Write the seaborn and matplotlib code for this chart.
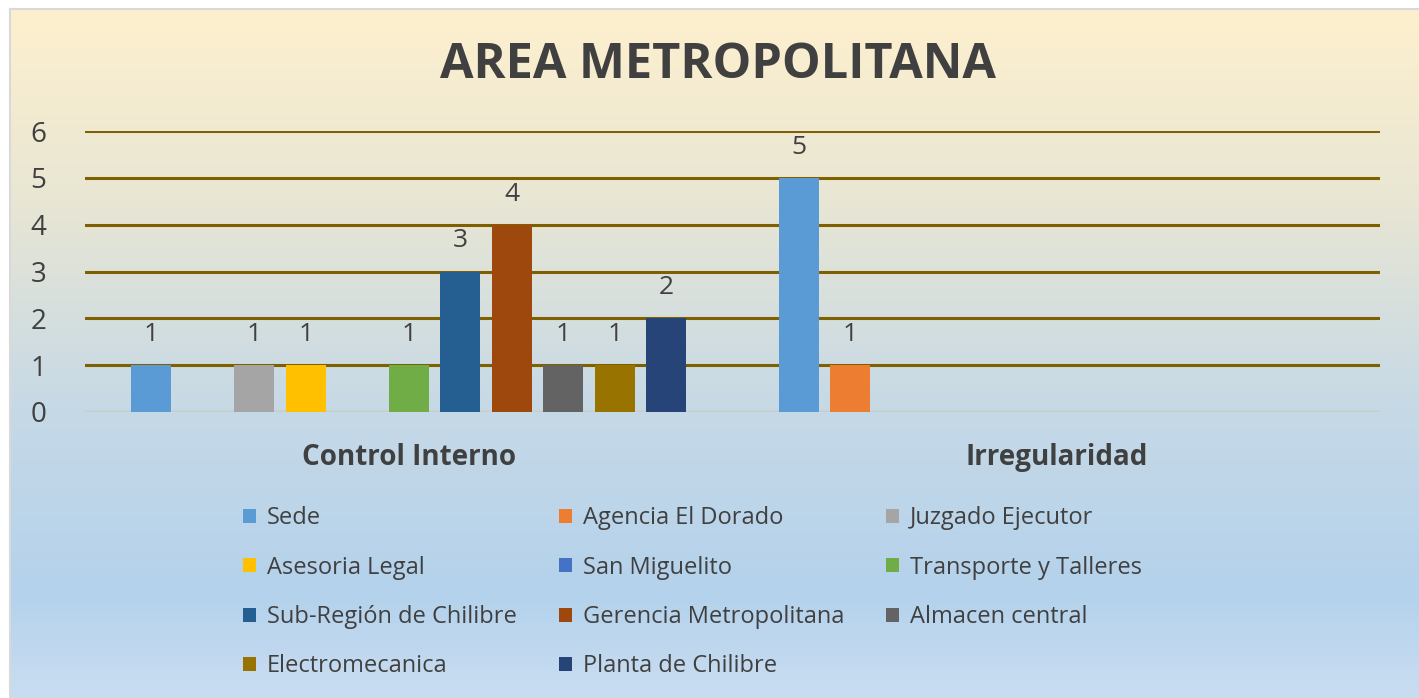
import numpy as np
import pandas as pd
import seaborn as sns
import matplotlib.pyplot as plt
from matplotlib.colors import LinearSegmentedColormap

categories = ['Control Interno', 'Irregularidad']
series = ['Sede', 'Agencia El Dorado', 'Juzgado Ejecutor', 'Asesoria Legal',
          'San Miguelito', 'Transporte y Talleres', 'Sub-Región de Chilibre',
          'Gerencia Metropolitana', 'Almacen central', 'Electromecanica',
          'Planta de Chilibre']
control_interno = [1, 0, 1, 1, 0, 1, 3, 4, 1, 1, 2]
irregularidad = [5, 1, 0, 0, 0, 0, 0, 0, 0, 0, 0]
colors = ['#5B9BD5', '#ED7D31', '#A5A5A5', '#FFC000', '#4472C4', '#70AD47',
          '#255E91', '#9E480E', '#636363', '#997300', '#264478']

rows = []
for cat, vals in zip(categories, [control_interno, irregularidad]):
    for s, v in zip(series, vals):
        rows.append({'Categoria': cat, 'Serie': s, 'Valor': v})
df = pd.DataFrame(rows)

sns.set_style('white')
plt.rcParams['font.family'] = ['Open Sans', 'DejaVu Sans']
text_color = '#404040'

W, H = 1419, 698
fig = plt.figure(figsize=(W / 100, H / 100), dpi=100)
fig.patch.set_facecolor('white')

# gradient background (Excel style)
bg = fig.add_axes([10 / W, 0, 1 - 10 / W, (H - 9) / H], zorder=-2)
grad = LinearSegmentedColormap.from_list(
    'bg', [(0.0, '#FEF0CE'), (0.28, '#E8E6D4'), (0.58, '#C6D9E6'),
           (0.85, '#B4D2EC'), (1.0, '#C9DDF1')])
bg.imshow(np.linspace(0, 1, 256).reshape(-1, 1), aspect='auto', cmap=grad,
          extent=[0, 1, 0, 1], origin='upper')
bg.set_xticks([])
bg.set_yticks([])
for side, sp in bg.spines.items():
    sp.set_visible(side in ('left', 'top'))
    sp.set_color('#D9D9D9')
    sp.set_linewidth(1.5)

ax = fig.add_axes([85 / W, (H - 412) / H, 1295 / W, 281 / H])
ax.set_facecolor('none')

sns.barplot(data=df, x='Categoria', y='Valor', hue='Serie', hue_order=series,
            order=categories, palette=colors, width=0.875, gap=0.22,
            linewidth=0, saturation=1, ax=ax, legend=True, zorder=3)

for cont in ax.containers:
    labels = [f'{b.get_height():.0f}' if b.get_height() > 0 else '' for b in cont]
    ax.bar_label(cont, labels=labels, padding=13, fontsize=19, color=text_color)

ax.set_ylim(0, 6)
ax.set_xlim(-0.5, 1.5)
ax.set_yticks(range(0, 7))
ax.yaxis.grid(True, color='#7F6000', linewidth=2.2, zorder=0)
ax.set_axisbelow(True)
ax.axhline(0, color='#D9D9D9', linewidth=2, zorder=2)
for sp in ax.spines.values():
    sp.set_visible(False)
ax.tick_params(axis='y', length=0, pad=28, labelsize=20, labelcolor=text_color)
ax.tick_params(axis='x', length=0, pad=22, labelsize=20, labelcolor=text_color)
for lbl in ax.get_xticklabels():
    lbl.set_fontweight('bold')
ax.set_xlabel('')
ax.set_ylabel('')

fig.text(718 / W, 1 - 66 / H, 'AREA METROPOLITANA', ha='center', va='center',
         fontsize=35, fontweight='bold', color=text_color)

# legend in row-major order like the original
handles, labels = ax.get_legend_handles_labels()
ax.get_legend().remove()
order = [0, 3, 6, 9, 1, 4, 7, 10, 2, 5, 8]
fig.legend([handles[i] for i in order], [labels[i] for i in order], ncol=3,
           loc='upper left', bbox_to_anchor=(243 / W, 1 - 506 / H),
           frameon=False, fontsize=17, labelcolor=text_color,
           handlelength=0.55, handleheight=0.55, handletextpad=0.45,
           labelspacing=1.08, columnspacing=1.8, borderpad=0, borderaxespad=0)

fig.savefig('out.png', dpi=100)
